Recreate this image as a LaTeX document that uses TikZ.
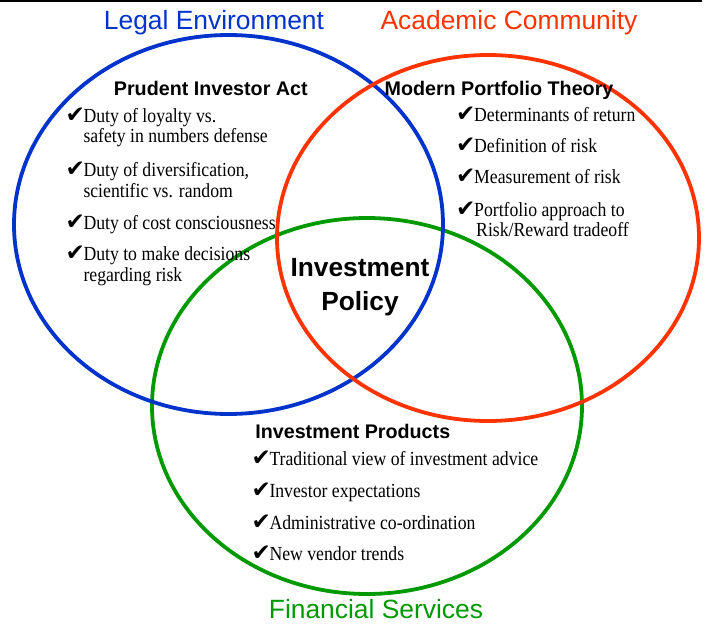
\documentclass[tikz,border=0pt]{standalone}
\usepackage{fontspec}
\newfontfamily\arial{Liberation Sans}
\newfontfamily\bodyfont{Liberation Serif}[FakeStretch=0.885]
\newfontfamily\chkfont{DejaVu Sans}
\definecolor{legalblue}{RGB}{0,51,204}
\definecolor{acadred}{RGB}{255,51,0}
\definecolor{fingreen}{RGB}{0,153,0}
\tikzset{
  ring/.style={line width=3.8pt},
  titletext/.style={font=\arial\fontsize{26.4}{30}\selectfont, anchor=base, inner sep=0pt},
  headtext/.style={font=\arial\bfseries\fontsize{19.7}{22}\selectfont, anchor=base, inner sep=0pt},
  centertext/.style={font=\arial\bfseries\fontsize{26.3}{30}\selectfont, anchor=base, inner sep=0pt},
  bodytext/.style={font=\bodyfont\fontsize{20}{22}\selectfont, anchor=base west, inner sep=0pt},
  chkmark/.style={font=\chkfont\fontsize{23}{24}\selectfont, anchor=base west, inner sep=0pt},
}
\begin{document}
\begin{tikzpicture}[x=1pt,y=-1pt]
\useasboundingbox (0,0) rectangle (705,624);
\fill[white] (0,0) rectangle (705,624);
% top rule
\coordinate (ruleL) at (0,0.9);
\coordinate (ruleR) at (701.7,0.9);
\draw[line width=1.7pt] (ruleL) -- (ruleR);
% circles
\draw[ring, fingreen] (367,406) ellipse [x radius=215, y radius=188];
\draw[ring, legalblue] (228.5,224.5) ellipse [x radius=214.5, y radius=189.5];
\draw[ring, acadred] (488,238) ellipse [x radius=211, y radius=183];
% titles
\node[titletext, text=legalblue] (tlegal) at (214,29) {Legal Environment};
\node[titletext, text=acadred] (tacad) at (509,29) {Academic Community};
\node[titletext, text=fingreen] (tfin) at (376,618) {Financial Services};
% center
\node[centertext] (cinv) at (360,276) {Investment};
\node[centertext] (cpol) at (360,310) {Policy};
% Prudent Investor Act
\node[headtext] (hpia) at (210.8,95) {Prudent Investor Act};
\node[chkmark] (pc1) at (65.5,122.3) {✔};
\node[bodytext] (p1a) at (83.3,122.3) {Duty of loyalty vs.};
\node[bodytext] (p1b) at (83.3,142.7) {safety in numbers defense};
\node[chkmark] (pc2) at (65.5,176) {✔};
\node[bodytext] (p2a) at (83.3,176) {Duty of diversification,};
\node[bodytext] (p2b) at (83.3,197.3) {scientific vs. random};
\node[chkmark] (pc3) at (65.5,229) {✔};
\node[bodytext] (p3a) at (83.3,229) {Duty of cost consciousness};
\node[chkmark] (pc4) at (65.5,260.7) {✔};
\node[bodytext] (p4a) at (83.3,260.7) {Duty to make decisions};
\node[bodytext] (p4b) at (83.3,281.7) {regarding risk};
% Modern Portfolio Theory
\node[headtext] (hmpt) at (499,95) {Modern Portfolio Theory};
\node[chkmark] (mc1) at (456,121.7) {✔};
\node[bodytext] (m1a) at (474,121.7) {Determinants of return};
\node[chkmark] (mc2) at (456,152.3) {✔};
\node[bodytext] (m2a) at (474,152.3) {Definition of risk};
\node[chkmark] (mc3) at (456,183.3) {✔};
\node[bodytext] (m3a) at (474,183.3) {Measurement of risk};
\node[chkmark] (mc4) at (456,216) {✔};
\node[bodytext] (m4a) at (474,216) {Portfolio approach to};
\node[bodytext] (m4b) at (476,236.7) {Risk/Reward tradeoff};
% Investment Products
\node[headtext] (hip) at (352.8,438) {Investment Products};
\node[chkmark] (ic1) at (251.5,465) {✔};
\node[bodytext] (i1a) at (269.3,465) {Traditional view of investment advice};
\node[chkmark] (ic2) at (251.5,497.3) {✔};
\node[bodytext] (i2a) at (269.3,497.3) {Investor expectations};
\node[chkmark] (ic3) at (251.5,529) {✔};
\node[bodytext] (i3a) at (269.3,529) {Administrative co-ordination};
\node[chkmark] (ic4) at (251.5,560.7) {✔};
\node[bodytext] (i4a) at (269.3,560.7) {New vendor trends};
\end{tikzpicture}
\end{document}
